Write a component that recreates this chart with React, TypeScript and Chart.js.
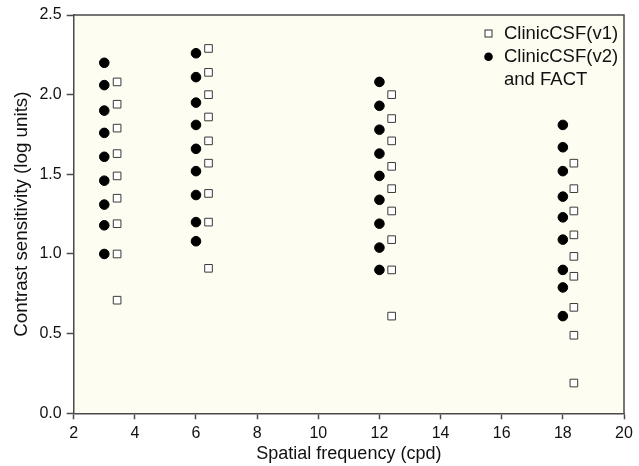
import React, { useEffect, useRef } from "react";
import { Chart, registerables } from "chart.js";

Chart.register(...registerables);

// Spatial frequencies (cpd) – each instrument is drawn slightly offset
const freqV2 = [3, 6, 12, 18];
const freqV1 = [3.42, 6.41, 12.4, 18.36];

// ClinicCSF(v1) – open squares (log contrast sensitivity levels)
const v1At3 = [2.08, 1.94, 1.79, 1.63, 1.49, 1.35, 1.19, 1.0, 0.71];
const v1At6 = [2.29, 2.14, 2.0, 1.86, 1.71, 1.57, 1.38, 1.2, 0.91];
const v1At12 = [2.0, 1.85, 1.71, 1.55, 1.41, 1.27, 1.09, 0.9, 0.61];
const v1At18 = [1.57, 1.41, 1.27, 1.12, 0.985, 0.86, 0.665, 0.49, 0.19];

// ClinicCSF(v2) and FACT – filled circles
const v2At3 = [2.2, 2.06, 1.9, 1.76, 1.61, 1.46, 1.31, 1.18, 1.0];
const v2At6 = [2.26, 2.11, 1.95, 1.81, 1.66, 1.52, 1.37, 1.2, 1.08];
const v2At12 = [2.08, 1.93, 1.78, 1.63, 1.49, 1.34, 1.19, 1.04, 0.9];
const v2At18 = [1.81, 1.67, 1.52, 1.36, 1.23, 1.09, 0.9, 0.79, 0.61];

const xTicks = [2, 4, 6, 8, 10, 12, 14, 16, 18, 20];
const yTicks = [0, 0.5, 1.0, 1.5, 2.0, 2.5];

const xTitle = "Spatial frequency (cpd)";
const yTitle = "Contrast sensitivity (log units)";
const legendV1 = ["ClinicCSF(v1)"];
const legendV2 = ["ClinicCSF(v2)", "and FACT"];

const FONT = "'Liberation Sans', Arial, Helvetica, sans-serif";
const AXIS = "#4a4a4a";

function toPoints(xs: number[], groups: number[][]) {
  const pts: { x: number; y: number }[] = [];
  groups.forEach((g, i) => g.forEach((v) => pts.push({ x: xs[i], y: v })));
  return pts;
}

const framePlugin = {
  id: "frame",
  beforeDraw(chart: any) {
    const { ctx, chartArea: a } = chart;
    ctx.save();
    ctx.fillStyle = "#fdfdf1";
    ctx.fillRect(a.left, a.top, a.right - a.left, a.bottom - a.top);
    ctx.restore();
  },
  afterDraw(chart: any) {
    const { ctx, chartArea: a } = chart;
    ctx.save();
    ctx.strokeStyle = AXIS;
    ctx.lineWidth = 1.5;
    ctx.beginPath();
    ctx.moveTo(a.left, a.top);
    ctx.lineTo(a.right, a.top);
    ctx.lineTo(a.right, a.bottom);
    ctx.stroke();

    // legend (inside plot, top right)
    const ix = a.right - 135.5;
    const tx = a.right - 120;
    const y1 = a.top + 18.5;
    const lh = 23.3;
    ctx.strokeStyle = "#333";
    ctx.lineWidth = 1;
    ctx.fillStyle = "#ffffff";
    ctx.fillRect(ix - 3.5, y1 - 3.5, 7, 7);
    ctx.strokeRect(ix - 3.5, y1 - 3.5, 7, 7);
    ctx.fillStyle = "#000";
    ctx.beginPath();
    ctx.arc(ix, y1 + lh, 4.3, 0, Math.PI * 2);
    ctx.fill();
    ctx.fillStyle = "#111";
    ctx.font = `18.5px ${FONT}`;
    ctx.textBaseline = "middle";
    ctx.textAlign = "left";
    legendV1.forEach((t, i) => ctx.fillText(t, tx, y1 + i * lh));
    legendV2.forEach((t, i) => ctx.fillText(t, tx, y1 + lh + i * lh));
    ctx.restore();
  },
};

export default function App() {
  const ref = useRef<HTMLCanvasElement | null>(null);
  useEffect(() => {
    if (!ref.current) return;
    const chart = new Chart(ref.current, {
      type: "scatter",
      data: {
        datasets: [
          {
            label: legendV1.join(" "),
            data: toPoints(freqV1, [v1At3, v1At6, v1At12, v1At18]),
            pointStyle: "rect",
            pointRadius: 5.4,
            pointBorderWidth: 1,
            pointBorderColor: "#3a3a3a",
            pointBackgroundColor: "#ffffff",
          },
          {
            label: legendV2.join(" "),
            data: toPoints(freqV2, [v2At3, v2At6, v2At12, v2At18]),
            pointStyle: "circle",
            pointRadius: 4.8,
            pointBorderWidth: 1,
            pointBorderColor: "#000",
            pointBackgroundColor: "#000",
          },
        ],
      },
      options: {
        responsive: false,
        animation: false,
        devicePixelRatio: 1,
        layout: { padding: { left: 0, top: 15, right: 15, bottom: 0 } },
        plugins: { legend: { display: false }, tooltip: { enabled: false } },
        scales: {
          x: {
            type: "linear",
            min: 2,
            max: 20,
            afterBuildTicks: (s: any) => {
              s.ticks = xTicks.map((v) => ({ value: v }));
            },
            afterFit: (s: any) => {
              s.height = 52.7;
            },
            ticks: {
              color: "#111",
              font: { family: FONT, size: 16 },
              padding: 5,
              maxRotation: 0,
              callback: (v: any) => String(v),
            },
            grid: {
              drawOnChartArea: false,
              drawTicks: true,
              tickLength: 6,
              tickColor: AXIS,
              tickWidth: 1.5,
            },
            border: { display: true, color: AXIS, width: 1.5 },
            title: {
              display: true,
              text: xTitle,
              color: "#111",
              font: { family: FONT, size: 18 },
              padding: { top: 0, bottom: 1 },
            },
          },
          y: {
            type: "linear",
            min: 0,
            max: 2.5,
            afterBuildTicks: (s: any) => {
              s.ticks = yTicks.map((v) => ({ value: v }));
            },
            afterFit: (s: any) => {
              s.width = 73.7;
            },
            ticks: {
              color: "#111",
              font: { family: FONT, size: 16 },
              padding: 5,
              callback: (v: any) => Number(v).toFixed(1),
            },
            grid: {
              drawOnChartArea: false,
              drawTicks: true,
              tickLength: 7,
              tickColor: AXIS,
              tickWidth: 1.5,
            },
            border: { display: true, color: AXIS, width: 1.5 },
            title: {
              display: true,
              text: yTitle,
              color: "#111",
              font: { family: FONT, size: 18.8 },
              padding: { top: 11, bottom: 0 },
            },
          },
        },
      },
      plugins: [framePlugin],
    });
    return () => chart.destroy();
  }, []);

  return (
    <div style={{ position: "fixed", left: 0, top: 0, width: 639, height: 466, background: "#fff" }}>
      <canvas ref={ref} width={639} height={466} style={{ display: "block" }} />
    </div>
  );
}
